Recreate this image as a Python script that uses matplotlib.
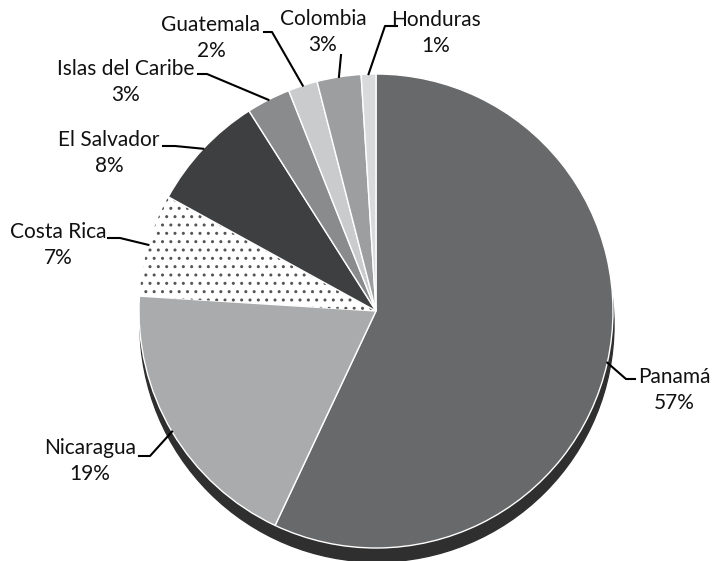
import numpy as np
import matplotlib.pyplot as plt
from matplotlib.patches import Circle

countries = ["Panamá", "Nicaragua", "Costa Rica", "El Salvador",
             "Islas del Caribe", "Guatemala", "Colombia", "Honduras"]
shares = [57, 19, 7, 8, 3, 2, 3, 1]
colors = ["#68696a", "#a9abac", "#ffffff", "#3e3f40",
          "#8a8b8c", "#c9cbcc", "#9d9e9f", "#d9dadb"]

plt.rcParams['font.family'] = ['Lato', 'DejaVu Sans']

W, H = 713, 561
cx, cy, r = 376, H - 311, 237

# label block centres and leader elbows, in image pixels (y down)
label_pos = [(674, 390), (90, 461), (58, 245), (109, 153),
             (126, 82), (211, 38), (323, 32), (436, 33)]
elbows = [[(626, 379), (635, 379)], [(150, 456), (139, 456)],
          [(120, 238), (108, 238)], [(175, 146), (163, 146)],
          [(207, 74), (198, 74)], [(272, 32), (264, 32)],
          [(341, 55)], [(385, 26), (397, 26)]]

fig = plt.figure(figsize=(W / 100, H / 100), dpi=100)
ax = fig.add_axes([0, 0, 1, 1])

# 3d-ish side of the pie
ax.add_patch(Circle((cx + 1, cy - 14), r, color="#2f2f2f", zorder=0))
wedges, _ = ax.pie(shares, colors=colors, startangle=90, counterclock=False,
                   center=(cx, cy), radius=r,
                   wedgeprops=dict(edgecolor="white", linewidth=1))
wedges[2].set_hatch("..")
wedges[2].set_edgecolor("#555555")
wedges[2].set_linewidth(0)

for w, name, pct, (lx, ly), pts in zip(wedges, countries, shares, label_pos, elbows):
    mid = np.deg2rad((w.theta1 + w.theta2) / 2)
    ax_pt = (cx + r * np.cos(mid), cy + r * np.sin(mid))
    xs = [ax_pt[0]] + [p[0] for p in pts]
    ys = [ax_pt[1]] + [H - p[1] for p in pts]
    ax.plot(xs, ys, color="black", lw=1.5, zorder=3)
    ax.text(lx, H - ly, f"{name}\n{pct}%", ha="center", va="center",
            fontsize=15, linespacing=1.38, color="#111111")

ax.set_xlim(0, W)
ax.set_ylim(0, H)
ax.set_aspect("equal")
ax.axis("off")
fig.savefig("out.png", dpi=100, facecolor="white")
